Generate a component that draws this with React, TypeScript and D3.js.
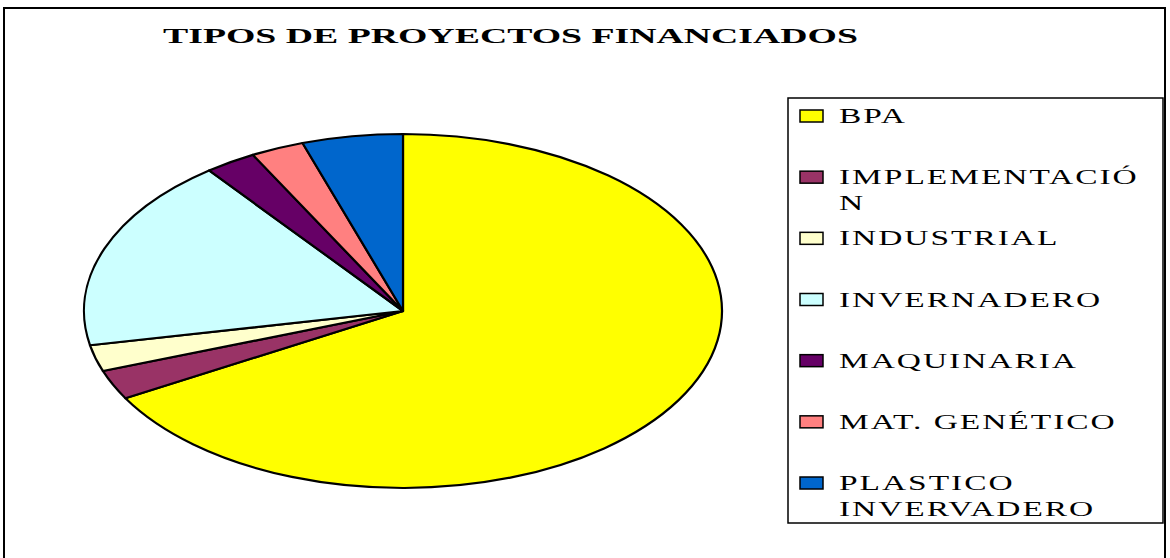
import React from "react";
import * as d3 from "d3";

const categories = [
  "BPA",
  "IMPLEMENTACIÓN",
  "INDUSTRIAL",
  "INVERNADERO",
  "MAQUINARIA",
  "MAT. GENÉTICO",
  "PLASTICO INVERVADERO",
];
const legendLines = [
  ["BPA"],
  ["IMPLEMENTACIÓ", "N"],
  ["INDUSTRIAL"],
  ["INVERNADERO"],
  ["MAQUINARIA"],
  ["MAT. GENÉTICO"],
  ["PLASTICO", "INVERVADERO"],
];
const values = [66.8, 2.7, 2.4, 17.7, 2.6, 2.7, 5.1];
const colors = ["#FFFF00", "#993366", "#FFFFCC", "#CCFFFF", "#660066", "#FF8080", "#0066CC"];
const title = "TIPOS DE PROYECTOS FINANCIADOS";

export default function App() {
  const W = 1170, H = 558;
  const cx = 403, cy = 311, rx = 319, ry = 177;
  const pie = d3.pie<number>().sort(null).value((d) => d)(values);
  const arc = d3.arc<d3.PieArcDatum<number>>().innerRadius(0).outerRadius(rx);

  const legendX = 788, legendY = 98, legendW = 375, legendH = 425;
  const rowY = d3.scaleLinear().domain([0, 6]).range([116, 483]);

  return (
    <svg width={W} height={H} style={{ position: "absolute", left: 0, top: 0, background: "#fff" }}>
      <rect x={4} y={8} width={1161} height={H} fill="#fff" stroke="#000" strokeWidth={2} />
      <text
        x={163}
        y={43}
        fontFamily="'Liberation Serif', 'Times New Roman', serif"
        fontWeight="bold"
        fontSize={21}
        textLength={695}
        lengthAdjust="spacingAndGlyphs"
      >
        {title}
      </text>
      <g transform={`translate(${cx},${cy}) scale(1,${ry / rx})`}>
        {pie.map((p, i) => (
          <path
            key={categories[i]}
            d={arc(p) || ""}
            fill={colors[i]}
            stroke="#000"
            strokeWidth={2.2}
            vectorEffect="non-scaling-stroke"
            strokeLinejoin="round"
          />
        ))}
      </g>
      <rect x={legendX} y={legendY} width={legendW} height={legendH} fill="#fff" stroke="#000" strokeWidth={1.5} />
      {legendLines.map((lines, i) => {
        const y = rowY(i);
        return (
          <g key={categories[i]}>
            <rect x={800} y={y - 6} width={23} height={12} fill={colors[i]} stroke="#000" strokeWidth={1.5} />
            {lines.map((ln, j) => (
              <g key={j} transform={`translate(839,${y + 7 + j * 26}) scale(1.52,1)`}>
                <text
                  x={0}
                  y={0}
                  fontFamily="'Liberation Serif', 'Times New Roman', serif"
                  fontSize={22}
                  letterSpacing={1.3}
                >
                  {ln}
                </text>
              </g>
            ))}
          </g>
        );
      })}
    </svg>
  );
}
